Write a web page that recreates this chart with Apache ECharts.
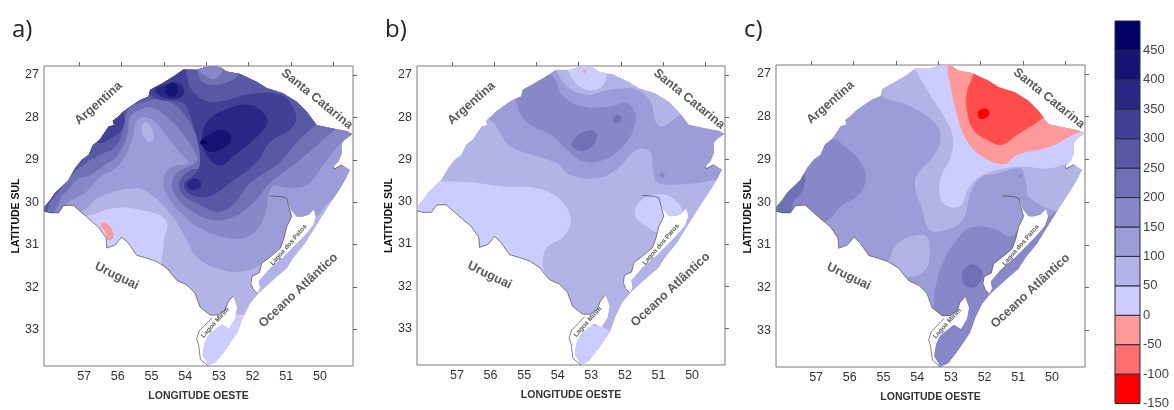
<!DOCTYPE html>
<html><head><meta charset="utf-8"><style>html,body{margin:0;padding:0;background:#fff}#c{width:1174px;height:410px}</style>
<script src="https://cdn.jsdelivr.net/npm/echarts@6/dist/echarts.min.js"></script></head><body><div id="c"></div>
<script>
// colour scale
const bandStarts=[-150,-100,-50,0,50,100,150,200,250,300,350,400,450];
const bandColors=['#ff0000','#ff6f6f','#ff9999','#ccccff','#b3b3e8','#9c9cd9','#8888c9','#7070b5','#5858a5','#404094','#282884','#141472','#000066'];
const mapMinus100Color='#ff4d4d';
const legendTicks=[-150,-100,-50,0,50,100,150,200,250,300,350,400,450];
const lonLabels=[57,56,55,54,53,52,51,50];
const latLabels=[27,28,29,30,31,32,33];
const topTicks=[57,56,55,54,53,52,51];

// state outline, as [longitude west, latitude south]
const northBorder=[[58.19,30.21],[58.18,30.11],[58.01,29.95],[57.86,29.78],[57.66,29.63],[57.47,29.48],[57.27,29.20],[57.07,29.00],[56.87,28.89],[56.74,28.65],[56.53,28.52],[56.28,28.22],[56.11,28.18],[56.15,28.08],[55.98,27.98],[55.85,27.87],[55.64,27.75],[55.34,27.59],[55.09,27.51],[55.04,27.35],[54.69,27.20],[54.35,27.04],[54.05,26.87],[53.66,26.88],[53.41,26.82],[53.21,26.79],[52.96,26.82],[52.77,26.92],[52.37,26.98],[51.88,27.16],[51.58,27.31],[51.10,27.43],[50.69,27.63],[50.39,27.87],[50.10,28.18],[49.61,28.26],[49.21,28.32],[49.03,28.39]];
const atlanticNorth=[[49.26,28.52],[49.35,28.61],[49.35,28.85],[49.45,29.04],[49.60,29.16],[49.58,29.22],[49.35,29.12],[49.11,29.24],[49.26,29.48],[49.40,29.67],[49.70,30.03],[49.95,30.34],[50.20,30.66],[50.44,30.97],[50.80,31.32],[50.99,31.56],[51.33,31.79],[51.83,32.15]];
const patosEast=[[51.86,32.15],[51.78,32.02],[51.82,31.86],[51.48,31.55],[51.09,31.29],[50.79,31.05],[50.44,30.77],[50.20,30.54],[50.12,30.34],[50.18,30.17],[50.34,30.30],[50.54,30.34],[50.69,30.34],[50.87,30.17],[50.97,29.95],[51.13,29.88]];
const patosWest=[[51.48,29.85],[51.13,29.87],[50.99,29.91],[50.91,30.14],[50.84,30.34],[50.99,30.58],[51.07,30.85],[51.18,31.09],[51.48,31.29],[51.73,31.44],[51.80,31.66],[52.01,31.74],[52.05,31.91],[51.98,32.05],[51.86,32.15]];
const atlanticSouth=[[51.83,32.15],[52.07,32.38],[52.27,32.70],[52.43,33.06],[52.79,33.48],[53.08,33.77],[53.31,33.86]];
const mirimStrip=[[53.50,33.60],[53.44,33.32],[53.32,33.13],[53.14,33.01],[52.91,32.87],[52.70,32.97],[52.52,32.73],[52.46,32.47],[52.58,32.21]];
const southBorder=[[52.58,32.21],[52.73,32.35],[52.82,32.54],[53.02,32.66],[53.26,32.66],[53.56,32.47],[53.71,32.14],[53.95,31.95],[54.25,31.84],[54.55,31.55],[54.84,31.40],[55.14,31.32],[55.44,31.25],[55.69,30.96],[55.88,30.82],[56.08,31.01],[56.33,31.08],[56.35,30.84],[56.58,30.58],[56.82,30.42],[57.07,30.25],[57.32,30.07],[57.61,30.08],[57.76,30.25],[58.01,30.25],[58.19,30.21]];
const mirimWest=[[53.31,33.86],[53.55,33.70],[53.60,33.37],[53.66,33.22],[53.58,33.03],[53.38,32.87],[53.20,32.72]];
const tramandai=[[49.60,29.16],[49.58,29.22],[49.35,29.12]];
const outline=[].concat(northBorder,atlanticNorth,patosEast,patosWest,atlanticSouth,mirimStrip,southBorder);
const darkShores=[southBorder,patosWest,mirimWest,tramandai];

// panel a contour rings
const aL50=[[58.30,26.41],[48.61,26.41],[48.61,32.54],[52.57,32.66],[53.56,32.78],[54.64,31.75],[54.64,30.97],[54.57,30.43],[55.34,30.18],[56.13,30.14],[56.87,30.32],[57.51,30.42],[58.30,30.42]];
const aL100=[[58.50,26.41],[48.61,26.41],[48.61,29.87],[49.60,29.93],[50.09,30.34],[50.59,30.73],[51.18,31.05],[51.78,31.48],[52.37,31.64],[53.06,31.56],[53.66,31.29],[53.95,30.89],[54.45,30.26],[55.14,29.75],[55.53,29.67],[56.52,29.87],[57.07,30.22],[58.01,30.50],[58.50,30.50]];
const aL150=[[58.75,26.17],[48.36,26.17],[48.36,28.48],[49.05,28.48],[49.34,28.58],[49.85,29.07],[50.38,29.59],[50.98,29.66],[51.42,29.64],[51.69,30.42],[52.16,30.82],[52.87,30.82],[53.56,30.61],[54.06,30.30],[54.45,29.95],[54.65,29.55],[54.45,29.19],[53.91,29.07],[54.15,28.84],[54.54,28.46],[54.89,28.11],[55.25,27.99],[55.48,28.13],[55.54,28.41],[55.69,28.77],[56.02,29.17],[56.52,29.40],[56.88,29.71],[57.18,29.88],[57.56,30.06],[58.01,30.54],[58.75,30.54]];
const aL200=[[58.75,26.17],[48.36,26.17],[48.36,28.18],[49.25,28.18],[49.55,28.30],[50.59,29.00],[51.48,29.55],[51.98,30.02],[52.58,30.35],[53.17,30.42],[53.76,30.23],[54.24,29.90],[54.39,29.55],[54.21,29.29],[53.70,29.07],[53.64,28.96],[53.94,28.53],[54.36,28.13],[54.95,27.78],[55.34,27.82],[55.63,27.99],[55.72,28.41],[55.99,28.88],[56.37,29.12],[56.82,29.36],[57.21,29.47],[57.47,29.71],[57.65,29.85],[57.77,30.06],[58.16,30.54],[58.75,30.54]];
const aL250=[[58.75,26.17],[48.36,26.17],[48.36,28.01],[49.85,28.01],[50.14,28.18],[50.68,28.58],[51.18,29.05],[52.07,29.55],[52.58,30.06],[53.05,30.23],[53.56,30.06],[54.06,29.83],[54.18,29.55],[53.85,29.24],[53.56,29.19],[53.47,28.93],[53.64,28.46],[54.15,27.82],[54.65,27.59],[55.25,27.64],[55.69,27.82],[55.84,28.30],[56.08,28.70],[56.52,28.88],[56.91,29.05],[57.27,29.29],[57.77,29.78],[58.01,30.02],[58.13,30.25],[58.75,30.54]];
const aLobe70=[[53.79,26.64],[53.70,26.81],[53.50,27.16],[53.05,27.23],[52.61,27.12],[52.37,26.93],[52.22,26.64]];
const aLobe88=[[53.65,26.64],[53.62,26.86],[53.35,27.05],[53.11,27.09],[52.90,26.93],[52.84,26.64]];
const aL300=[[55.48,27.23],[55.10,27.45],[54.74,27.59],[54.06,27.66],[53.85,27.99],[53.64,28.53],[53.56,28.96],[53.62,29.24],[53.85,29.43],[54.03,29.55],[53.94,29.76],[53.56,29.88],[53.17,29.83],[52.67,29.55],[51.87,29.05],[51.48,28.58],[50.80,28.22],[50.74,27.87],[51.18,27.47],[52.07,27.45],[53.17,27.64],[53.76,27.40],[53.98,26.93],[54.06,26.53],[55.34,26.53]];
const aBlob300=[[55.84,27.89],[55.84,28.22],[56.17,28.48],[56.58,28.60],[57.12,28.30],[56.23,27.35]];
const aL350=[[53.50,28.58],[53.35,28.11],[52.75,27.80],[52.07,27.71],[51.63,27.94],[51.57,28.15],[51.87,28.46],[52.52,28.88],[52.96,29.14],[53.26,29.00]];
const aLow350=[[53.94,29.57],[53.85,29.47],[53.67,29.45],[53.53,29.55],[53.56,29.66],[53.73,29.71],[53.88,29.69]];
const aNw350=[[54.89,27.35],[54.59,27.23],[54.21,27.19],[54.03,27.35],[54.12,27.52],[54.45,27.56],[54.74,27.49]];
const aNw400=[[54.59,27.35],[54.50,27.21],[54.30,27.19],[54.21,27.35],[54.30,27.49],[54.50,27.49]];
const aL400=[[53.56,28.58],[53.32,28.41],[52.96,28.30],[52.67,28.39],[52.67,28.58],[52.96,28.77],[53.26,28.81],[53.50,28.67]];
const aL450=[[53.54,28.58],[53.47,28.53],[53.38,28.55],[53.35,28.60],[53.44,28.63],[53.53,28.61]];
const aOval50=[[55.28,28.18],[55.13,28.13],[54.95,28.34],[54.95,28.53],[55.10,28.58],[55.28,28.34]];
const aPink=[[56.52,30.54],[56.37,30.49],[56.17,30.65],[56.14,30.84],[56.29,30.89],[56.37,30.70]];

// panel b contour rings
const bWest0=[[57.45,29.52],[56.60,29.54],[55.61,29.64],[54.62,29.68],[53.93,29.95],[53.61,30.43],[53.83,30.82],[54.33,31.09],[54.45,31.45],[54.43,31.84],[55.61,32.08],[58.58,31.37],[58.58,29.52]];
const bOval0=[[51.70,30.19],[51.49,29.95],[51.06,29.83],[50.66,29.87],[50.32,30.15],[50.22,30.58],[50.96,30.74],[51.36,30.58],[51.65,30.39]];
const bTip0=[[53.73,33.10],[52.84,32.93],[52.35,33.17],[51.85,33.97],[54.03,33.97]];
const bNorth0=[[53.68,26.72],[53.54,27.12],[53.14,27.35],[52.74,27.31],[52.55,27.04],[52.59,26.72]];
const bPink=[[53.26,26.92],[53.21,26.88],[53.16,26.92],[53.21,26.96]];
const bL100=[[56.60,27.91],[56.01,28.06],[55.71,28.38],[55.42,28.69],[54.62,28.93],[54.03,29.09],[53.63,29.36],[52.84,29.44],[52.25,29.24],[51.65,28.77],[51.26,28.81],[51.16,29.24],[51.06,29.52],[50.66,29.60],[49.28,29.48],[48.49,29.24],[48.49,28.30],[49.77,27.90],[50.32,27.94],[50.91,28.22],[51.11,28.06],[51.21,27.67],[51.65,27.35],[52.45,27.35],[53.14,27.47],[53.73,27.27],[54.08,26.88],[54.43,26.57],[56.60,27.20]];
const bL150=[[55.19,27.35],[54.23,27.00],[53.83,27.51],[53.24,27.75],[52.45,27.75],[51.95,27.67],[51.70,27.91],[51.75,28.30],[52.05,28.69],[52.64,29.01],[53.24,29.05],[53.73,28.77],[54.18,28.42],[54.82,28.18],[55.12,27.91]];
const bL200a=[[53.58,28.61],[53.39,28.42],[53.04,28.31],[52.84,28.42],[52.94,28.65],[53.24,28.79],[53.53,28.73]];
const bL200b=[[52.35,28.02],[52.20,27.94],[52.10,28.02],[52.20,28.13],[52.35,28.10]];
const bSpot150=[[50.97,29.36],[50.89,29.30],[50.81,29.36],[50.89,29.43]];

// panel c contour rings
const cWest150=[[56.54,28.50],[56.14,28.70],[55.69,29.05],[55.52,29.44],[55.74,29.83],[56.29,30.11],[56.73,30.46],[58.56,30.46],[58.56,28.35]];
const cTip200=[[58.07,29.29],[57.36,29.35],[57.40,29.72],[57.67,29.99],[57.77,30.23],[58.56,30.46],[58.56,29.60]];
const cNorth50=[[55.10,27.45],[54.31,27.72],[53.52,28.11],[53.30,28.50],[53.52,28.93],[54.01,29.36],[54.06,29.68],[53.86,30.15],[53.61,30.66],[53.02,30.62],[52.62,30.38],[52.43,29.83],[52.13,29.44],[51.63,29.33],[50.94,29.21],[50.79,29.48],[50.64,29.91],[49.65,30.19],[48.47,29.60],[48.47,26.39],[55.30,26.39]];
const cSouth150=[[49.65,30.15],[50.10,30.34],[50.94,30.62],[51.24,30.81],[51.73,30.62],[52.33,30.58],[52.72,30.77],[53.22,31.40],[53.47,32.03],[53.52,32.46],[53.71,32.73],[53.71,34.06],[51.14,34.06],[48.47,31.32],[48.47,30.15]];
const cSouth200=[[52.67,31.71],[52.57,31.52],[52.33,31.46],[52.08,31.60],[52.08,31.79],[52.28,31.99],[52.57,31.95]];
const cOval50=[[54.82,31.32],[54.60,30.99],[54.11,30.79],[53.71,30.81],[53.63,31.17],[53.73,31.56],[54.16,31.75],[54.55,31.67],[54.90,31.48]];
const cBand0=[[54.21,26.39],[54.06,26.88],[53.61,27.49],[53.12,28.11],[52.94,28.50],[53.02,28.97],[53.27,29.36],[53.34,29.76],[53.17,30.07],[52.72,30.09],[52.48,29.68],[52.13,29.40],[51.63,29.25],[50.94,29.17],[50.05,29.21],[49.55,29.11],[48.47,29.17],[48.47,26.39]];
const cMinus50=[[53.12,26.39],[53.12,26.78],[53.02,27.25],[52.82,27.96],[52.57,28.50],[52.13,28.90],[51.44,29.11],[51.04,28.90],[50.05,28.70],[49.16,28.35],[48.47,28.27],[48.47,26.39]];
const cMinus100=[[52.33,26.39],[52.33,26.98],[52.52,27.41],[52.52,27.88],[52.33,28.31],[51.93,28.54],[51.49,28.66],[51.04,28.43],[50.30,28.05],[49.65,27.56],[50.64,26.39]];
const cMinus150=[[52.21,27.94],[52.13,27.84],[51.93,27.82],[51.85,27.92],[51.95,28.02],[52.13,28.05]];
const cSpotA=[[50.99,29.38],[50.94,29.34],[50.89,29.38],[50.94,29.42]];
const cSpotB=[[54.46,30.31],[54.44,30.30],[54.42,30.31],[54.44,30.33]];

// [band start, ring], painted in order over the base band
const panelA=[[50,aL50],[100,aL100],[150,aL150],[200,aL200],[250,aL250],[200,aLobe70],[150,aLobe88],[300,aL300],[300,aBlob300],[350,aL350],[350,aLow350],[350,aNw350],[400,aNw400],[400,aL400],[450,aL450],[50,aOval50],[-50,aPink]];
const panelB=[[0,bWest0],[0,bOval0],[0,bTip0],[100,bL100],[0,bNorth0],[-50,bPink],[150,bL150],[200,bL200a],[200,bL200b],[150,bSpot150]];
const panelC=[[150,cWest150],[200,cTip200],[50,cNorth50],[150,cSouth150],[200,cSouth200],[50,cOval50],[0,cBand0],[-50,cMinus50],[-100,cMinus100],[-150,cMinus150],[150,cSpotA],[150,cSpotB]];
const baseBand=[0,50,100];

const placeNames=[['Argentina',56.57,27.67,41,12.5],['Santa Catarina',50.09,27.57,-39,12.5],['Uruguai',56.03,31.74,-26,12.5],['Oceano Atlântico',50.64,32.08,43,12.5],['Lagoa dos Patos',50.93,31.01,49,6.5],['Lagoa Mirim',53.11,32.84,48,6.5]];
const panelTitles=['a)','b)','c)'];

const colorOf=v=>v===-100?mapMinus100Color:bandColors[bandStarts.indexOf(v)];
const FONT='"Liberation Sans", Arial, sans-serif';
const frames=[{l:44,t:66,r:353,b:366},{l:417,t:66,r:725,b:365},{l:776,t:65,r:1085,b:367}];
const LON_MIN=49.02,LON_MAX=58.19,LAT_MIN=26.79,LAT_MAX=33.86;
const TOP_MIN=50.54,TOP_MAX=57.825;

const grid=[],xAxis=[],yAxis=[],series=[];
frames.forEach((f,i)=>{
  grid.push({left:f.l,top:f.t,width:f.r-f.l,height:f.b-f.t,show:true,borderColor:'#7a7a7a',borderWidth:1,backgroundColor:'#fff'});
  xAxis.push({type:'value',gridIndex:i,position:'bottom',inverse:true,min:LON_MIN,max:LON_MAX,splitLine:{show:false},axisLine:{show:false},axisTick:{show:false},
    axisLabel:{customValues:lonLabels,color:'#333',fontSize:12.5,fontFamily:FONT,margin:4},
    name:'LONGITUDE OESTE',nameLocation:'middle',nameGap:25,nameTextStyle:{fontFamily:FONT,fontWeight:'bold',fontSize:10.5,color:'#333'}});
  xAxis.push({type:'value',gridIndex:i,position:'top',inverse:true,min:TOP_MIN,max:TOP_MAX,splitLine:{show:false},axisLine:{show:false},
    axisTick:{show:true,customValues:topTicks,length:4,lineStyle:{color:'#666'}},axisLabel:{show:false}});
  yAxis.push({type:'value',gridIndex:i,position:'left',inverse:true,min:LAT_MIN,max:LAT_MAX,splitLine:{show:false},axisLine:{show:false},axisTick:{show:false},
    axisLabel:{customValues:latLabels,color:'#333',fontSize:12.5,fontFamily:FONT,margin:5},
    name:'LATITUDE SUL',nameLocation:'middle',nameGap:22,nameTextStyle:{fontFamily:FONT,fontWeight:'bold',fontSize:10.5,color:'#111'}});
  yAxis.push({type:'value',gridIndex:i,position:'right',inverse:true,min:LAT_MIN,max:LAT_MAX,splitLine:{show:false},axisLine:{show:false},
    axisTick:{show:true,customValues:latLabels,length:4,lineStyle:{color:'#666'}},axisLabel:{show:false}});
  const fills=i===0?panelA:i===1?panelB:panelC;
  const items=[[baseBand[i],outline,true]].concat(fills);
  series.push({type:'custom',coordinateSystem:'cartesian2d',xAxisIndex:i*2,yAxisIndex:i*2,silent:true,animation:false,clip:false,z:2,
    data:items.map((_,k)=>[k,0]),
    renderItem:(p,api)=>{
      const it=items[p.dataIndex];
      const clip={type:'polygon',shape:{points:outline.map(q=>api.coord(q))}};
      return {type:'polygon',clipPath:clip,shape:{points:it[1].map(q=>api.coord(q)),smooth:it[2]?0:0.4},style:{fill:colorOf(it[0])}};
    }});
  series.push({type:'custom',coordinateSystem:'cartesian2d',xAxisIndex:i*2,yAxisIndex:i*2,silent:true,animation:false,clip:false,z:3,
    data:darkShores.map((_,k)=>[k,0]),
    renderItem:(p,api)=>({type:'polyline',shape:{points:darkShores[p.dataIndex].map(q=>api.coord(q))},style:{fill:null,stroke:'#4a4a4a',lineWidth:0.7}})});
  series.push({type:'custom',coordinateSystem:'cartesian2d',xAxisIndex:i*2,yAxisIndex:i*2,silent:true,animation:false,clip:false,z:4,
    data:placeNames.map((_,k)=>[k,0]),
    renderItem:(p,api)=>{const n=placeNames[p.dataIndex];const c=api.coord([n[1],n[2]]);
      return {type:'text',x:c[0],y:c[1],rotation:n[3]*Math.PI/180,style:{text:n[0],fill:'#5a5a5a',font:'bold '+n[4]+'px '+FONT,textAlign:'center',textVerticalAlign:'middle'}};}});
});
// colour bar
grid.push({left:1115,top:21,width:25,height:383,show:false});
xAxis.push({type:'value',gridIndex:3,min:0,max:1,show:false});
yAxis.push({type:'value',gridIndex:3,position:'right',min:-150,max:500,interval:50,splitLine:{show:false},axisLine:{show:false},
  axisTick:{show:false},
  axisLabel:{customValues:legendTicks,color:'#444',fontSize:13,fontFamily:FONT,margin:3}});
series.push({type:'custom',coordinateSystem:'cartesian2d',xAxisIndex:6,yAxisIndex:6,silent:true,animation:false,z:2,
  data:bandStarts.map((v,k)=>[0,v,1,v+50,k]),encode:{x:[0,2],y:[1,3]},
  renderItem:(p,api)=>{const a=api.coord([0,api.value(1)]),b=api.coord([1,api.value(3)]);
    return {type:'rect',shape:{x:a[0],y:b[1],width:b[0]-a[0],height:a[1]-b[1]},style:{fill:bandColors[api.value(4)],stroke:'#2a2a3a',lineWidth:1}};}});

const chart=echarts.init(document.getElementById('c'),null,{renderer:'canvas'});
chart.setOption({animation:false,backgroundColor:'#fff',
  title:panelTitles.map((t,i)=>({text:t,left:[12,385,744][i],top:18,padding:0,textStyle:{fontFamily:'"Open Sans"',fontWeight:'normal',fontSize:24,color:'#222'}})),
  grid,xAxis,yAxis,series});
</script></body></html>
